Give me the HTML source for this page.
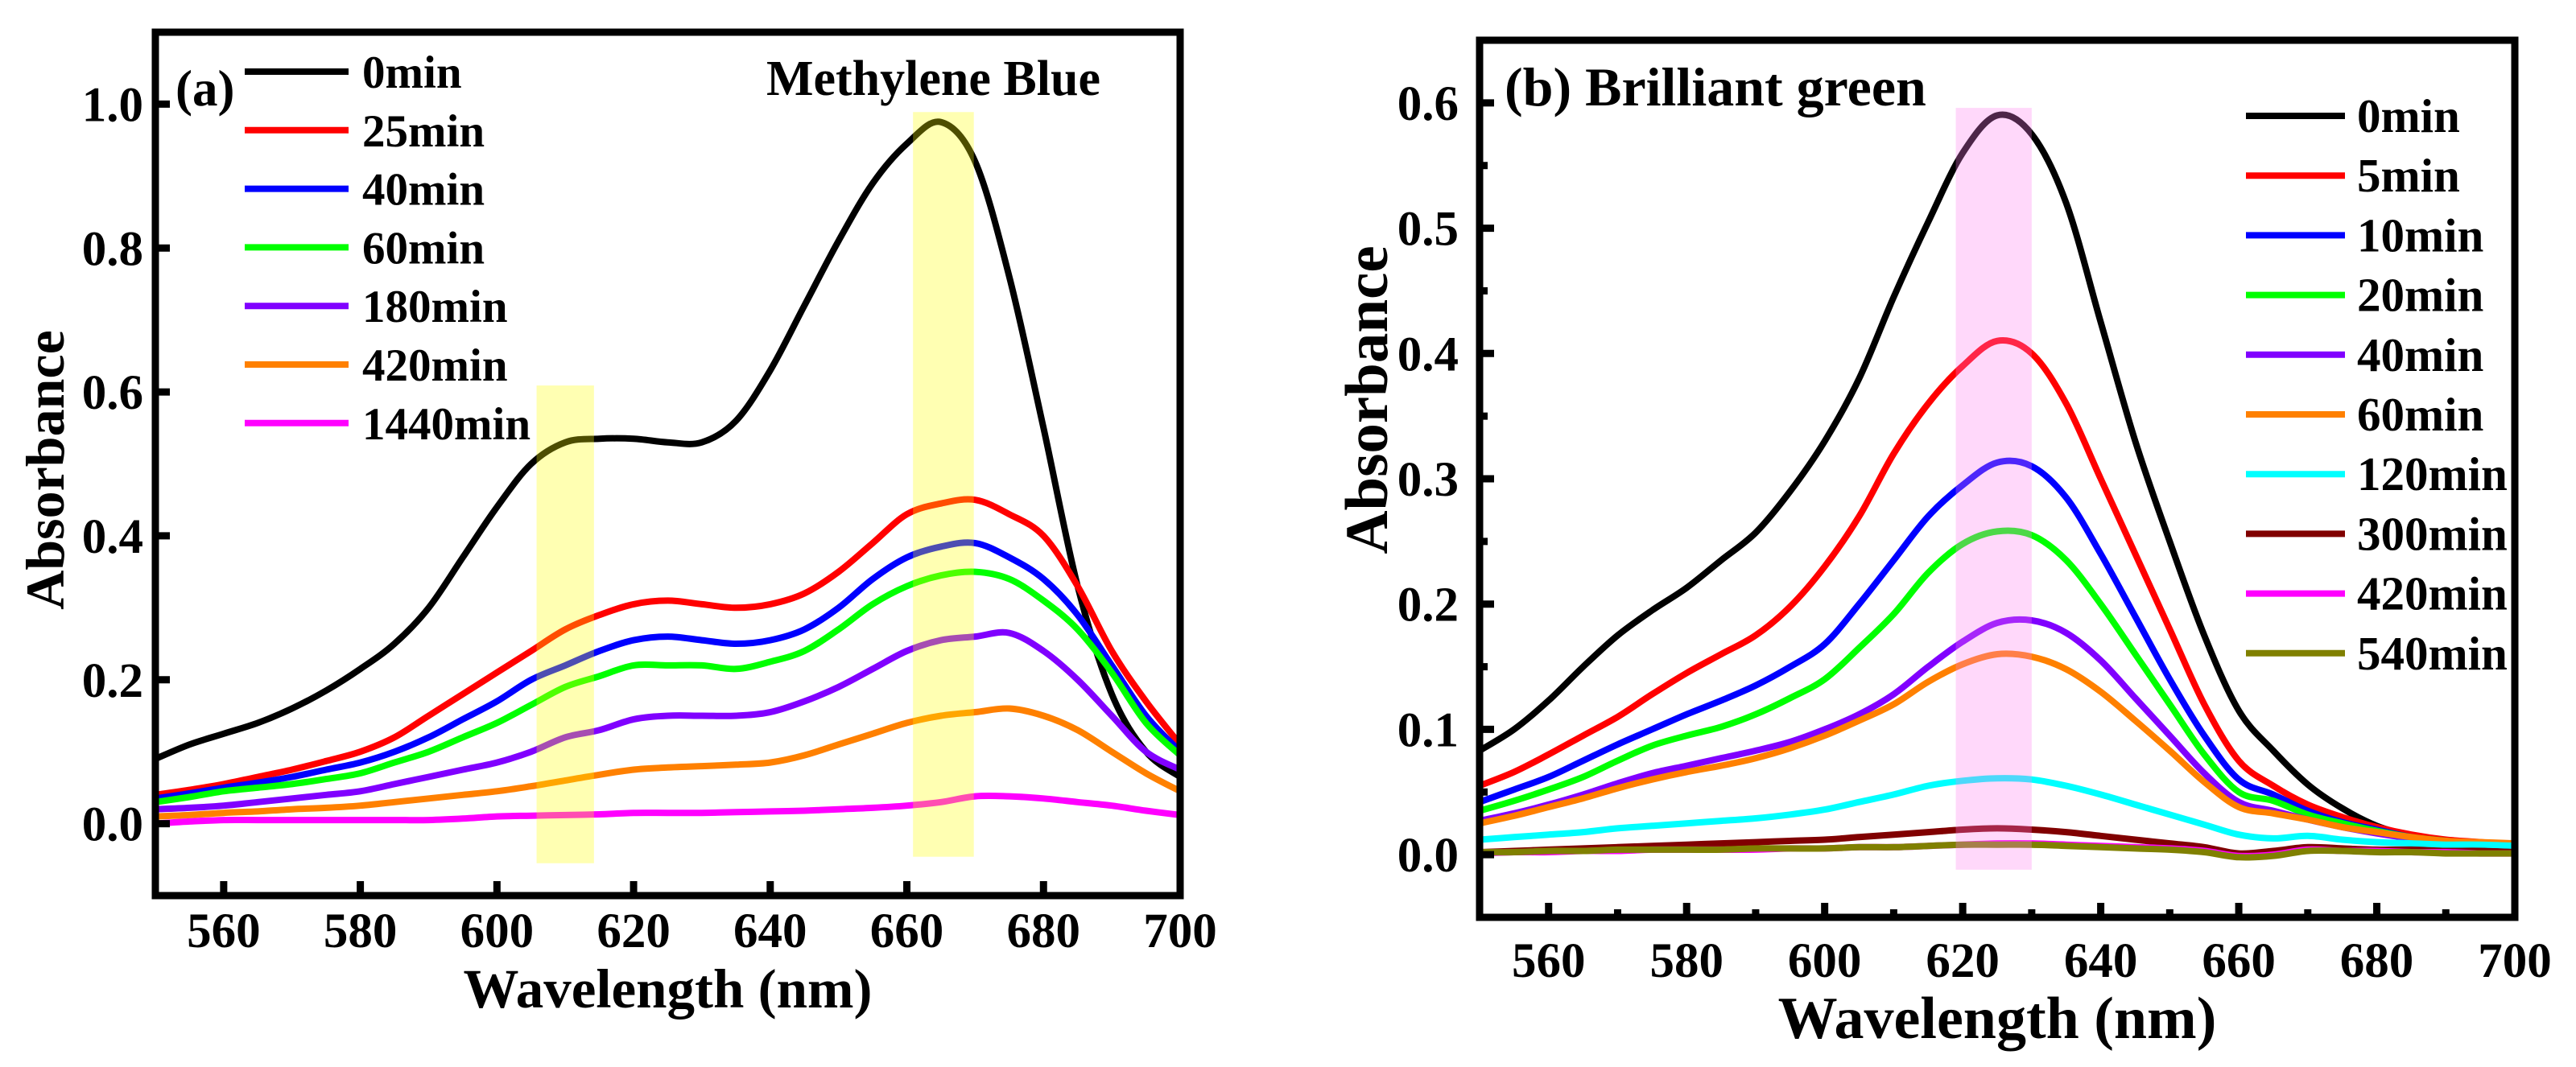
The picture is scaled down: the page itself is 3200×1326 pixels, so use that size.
<!DOCTYPE html>
<html><head><meta charset="utf-8"><style>
html,body{margin:0;padding:0;background:#fff;}
svg{display:block;font-family:"Liberation Serif",serif;font-weight:bold;}
</style></head><body>
<svg id="fig" width="3200" height="1326" viewBox="0 0 3200 1326" xmlns="http://www.w3.org/2000/svg">
<rect width="3200" height="1326" fill="#fff"/>
<g id="pa"></g>
<g id="pb"></g>
</svg>
<script>
// ---- shared wavelength axis (nm) ----
const wl = [550,555,560,565,570,575,580,585,590,595,600,605,610,615,620,625,630,635,640,645,650,655,660,665,670,675,680,685,690,695,700];

// ---- Panel (a) Methylene Blue ----
const aLabels = ["0min","25min","40min","60min","180min","420min","1440min"];
const aColors = ["#000000","#ff0000","#0000ff","#00ff00","#8000ff","#ff8000","#ff00ff"];
const a0 = [0.09,0.11,0.125,0.14,0.16,0.185,0.215,0.25,0.30,0.37,0.44,0.50,0.53,0.535,0.535,0.53,0.53,0.56,0.63,0.72,0.81,0.89,0.945,0.975,0.92,0.76,0.55,0.33,0.18,0.10,0.065];
const a25 = [0.04,0.047,0.055,0.065,0.075,0.087,0.10,0.12,0.15,0.18,0.21,0.24,0.27,0.29,0.305,0.31,0.305,0.30,0.305,0.32,0.35,0.39,0.43,0.445,0.45,0.43,0.40,0.33,0.24,0.17,0.11];
const a40 = [0.035,0.042,0.05,0.057,0.065,0.075,0.085,0.10,0.12,0.145,0.17,0.20,0.22,0.24,0.255,0.26,0.255,0.25,0.255,0.27,0.30,0.34,0.37,0.385,0.39,0.37,0.34,0.29,0.22,0.15,0.10];
const a60 = [0.03,0.037,0.045,0.05,0.055,0.062,0.07,0.085,0.10,0.12,0.14,0.165,0.19,0.205,0.22,0.22,0.22,0.215,0.225,0.24,0.27,0.305,0.33,0.345,0.35,0.34,0.31,0.27,0.21,0.14,0.095];
const a180 = [0.02,0.022,0.025,0.03,0.035,0.04,0.045,0.055,0.065,0.075,0.085,0.10,0.12,0.13,0.145,0.15,0.15,0.15,0.155,0.17,0.19,0.215,0.24,0.255,0.26,0.265,0.24,0.20,0.15,0.10,0.075];
const a420 = [0.01,0.012,0.015,0.017,0.02,0.022,0.025,0.03,0.035,0.04,0.045,0.052,0.06,0.068,0.075,0.078,0.08,0.082,0.085,0.095,0.11,0.125,0.14,0.15,0.155,0.16,0.15,0.13,0.10,0.07,0.045];
const a1440 = [0.0,0.003,0.005,0.005,0.005,0.005,0.005,0.005,0.005,0.007,0.01,0.011,0.012,0.013,0.015,0.015,0.015,0.016,0.017,0.018,0.02,0.022,0.025,0.03,0.038,0.038,0.035,0.03,0.025,0.018,0.012];
const aBandsX = [[605.8,614.2],[660.9,669.8]];
const aBandsY = [[-0.055,0.609],[-0.046,0.989]];
const aYTicks = ["0.0","0.2","0.4","0.6","0.8","1.0"];
const xTicks = ["560","580","600","620","640","660","680","700"];

// ---- Panel (b) Brilliant green ----
const bLabels = ["0min","5min","10min","20min","40min","60min","120min","300min","420min","540min"];
const bColors = ["#000000","#ff0000","#0000ff","#00ff00","#8000ff","#ff8000","#00ffff","#800000","#ff00ff","#808000"];
const b0 = [0.083,0.10,0.123,0.15,0.175,0.195,0.213,0.235,0.257,0.29,0.33,0.38,0.445,0.505,0.56,0.59,0.575,0.52,0.425,0.33,0.25,0.175,0.115,0.083,0.056,0.037,0.023,0.015,0.01,0.008,0.007];
const b5 = [0.055,0.066,0.08,0.095,0.11,0.128,0.145,0.16,0.175,0.198,0.23,0.27,0.32,0.36,0.39,0.41,0.40,0.36,0.30,0.24,0.18,0.12,0.075,0.055,0.04,0.03,0.022,0.016,0.012,0.01,0.008];
const b10 = [0.042,0.052,0.062,0.075,0.088,0.10,0.112,0.123,0.135,0.15,0.168,0.20,0.235,0.27,0.295,0.313,0.31,0.285,0.24,0.19,0.14,0.095,0.06,0.048,0.035,0.026,0.02,0.014,0.011,0.009,0.008];
const b20 = [0.035,0.043,0.052,0.062,0.075,0.087,0.095,0.102,0.112,0.125,0.14,0.165,0.192,0.225,0.248,0.258,0.255,0.235,0.2,0.16,0.12,0.08,0.05,0.043,0.032,0.025,0.019,0.014,0.011,0.009,0.008];
const b40 = [0.027,0.033,0.04,0.048,0.057,0.065,0.071,0.077,0.083,0.09,0.1,0.112,0.128,0.15,0.17,0.185,0.187,0.177,0.155,0.125,0.095,0.065,0.042,0.035,0.028,0.022,0.017,0.013,0.01,0.009,0.008];
const b60 = [0.025,0.031,0.038,0.045,0.053,0.06,0.066,0.071,0.077,0.085,0.095,0.107,0.12,0.138,0.152,0.16,0.158,0.148,0.13,0.107,0.083,0.058,0.038,0.033,0.028,0.022,0.018,0.014,0.011,0.01,0.009];
const b120 = [0.012,0.014,0.016,0.018,0.021,0.023,0.025,0.027,0.029,0.032,0.036,0.042,0.048,0.055,0.059,0.061,0.06,0.055,0.048,0.04,0.032,0.024,0.016,0.013,0.015,0.012,0.01,0.009,0.008,0.008,0.007];
const b300 = [0.002,0.003,0.004,0.005,0.006,0.007,0.008,0.009,0.01,0.011,0.012,0.014,0.016,0.018,0.02,0.021,0.02,0.018,0.015,0.012,0.009,0.006,0.001,0.003,0.006,0.005,0.004,0.004,0.003,0.003,0.002];
const b420 = [0.001,0.002,0.002,0.003,0.003,0.004,0.004,0.004,0.004,0.005,0.005,0.006,0.006,0.007,0.008,0.009,0.009,0.008,0.007,0.006,0.005,0.003,-0.001,0.0,0.004,0.003,0.003,0.002,0.002,0.001,0.001];
const b540 = [0.002,0.002,0.003,0.003,0.004,0.004,0.004,0.004,0.005,0.005,0.005,0.006,0.006,0.007,0.008,0.008,0.008,0.007,0.006,0.005,0.004,0.002,-0.002,-0.001,0.003,0.003,0.002,0.002,0.001,0.001,0.001];
const bBandX = [619,630];
const bBandY = [-0.012,0.596];
const bYTicks = ["0.0","0.1","0.2","0.3","0.4","0.5","0.6"];

const NS = "http://www.w3.org/2000/svg";
function mk(parent, tag, attrs, text){
  const e = document.createElementNS(NS, tag);
  for (const k in attrs) e.setAttribute(k, attrs[k]);
  if (text !== undefined) e.textContent = text;
  parent.appendChild(e);
  return e;
}
function smoothPath(pts){
  let d = "M" + pts[0][0].toFixed(1) + "," + pts[0][1].toFixed(1);
  for (let i = 0; i < pts.length - 1; i++){
    const p0 = pts[Math.max(0,i-1)], p1 = pts[i], p2 = pts[i+1], p3 = pts[Math.min(pts.length-1,i+2)];
    const c1x = p1[0] + (p2[0]-p0[0])/6, c1y = p1[1] + (p2[1]-p0[1])/6;
    const c2x = p2[0] - (p3[0]-p1[0])/6, c2y = p2[1] - (p3[1]-p1[1])/6;
    d += " C" + c1x.toFixed(1) + "," + c1y.toFixed(1) + " " + c2x.toFixed(1) + "," + c2y.toFixed(1) + " " + p2[0].toFixed(1) + "," + p2[1].toFixed(1);
  }
  return d;
}

function drawPanel(g, cfg){
  const X = v => cfg.x0 + (v - 550) / 150 * (cfg.x1 - cfg.x0);
  const Y = v => cfg.y1 - (v - cfg.ymin) / (cfg.ymax - cfg.ymin) * (cfg.y1 - cfg.y0);
  // series
  cfg.series.forEach((s, i) => {
    const pts = wl.map((w, j) => [X(w), Y(s[j])]);
    const p = mk(g, "path", {d: smoothPath(pts), fill: "none", stroke: cfg.colors[i], "stroke-width": 8, "stroke-linejoin": "round"});
    
    
  });
  // bands
  cfg.bands.forEach((b, i) => {
    const r = mk(g, "rect", {x: X(b[0][0]), y: Y(b[1][1]), width: X(b[0][1]) - X(b[0][0]), height: Y(b[1][0]) - Y(b[1][1]), fill: cfg.bandColor, "fill-opacity": 0.3});
    
    
  });
  // ticks
  xTicks.forEach(t => {
    const x = X(+t);
    const tk = mk(g, "line", {x1: x, x2: x, y1: cfg.y1, y2: cfg.y1 - 18, stroke: "#000", "stroke-width": 9});
    
    
    const lb = mk(g, "text", {x: x, y: cfg.xLabelY, "text-anchor": "middle", "font-size": 61}, t);
    
    
    if (cfg.minor && +t - 10 > 550){
      const xm = X(+t - 10);
      const mt = mk(g, "line", {x1: xm, x2: xm, y1: cfg.y1, y2: cfg.y1 - 10, stroke: "#000", "stroke-width": 9});
      
      
    }
  });
  cfg.yTicks.forEach(t => {
    const y = Y(+t);
    const tk = mk(g, "line", {x1: cfg.x0, x2: cfg.x0 + 18, y1: y, y2: y, stroke: "#000", "stroke-width": 9});
    
    
    const lb = mk(g, "text", {x: cfg.yLabelX, y: y + 21, "text-anchor": "end", "font-size": 61}, t);
    
    
    if (cfg.minor){
      const ym = Y(+t + cfg.minorStep);
      if (ym > cfg.y0 + 5){
        const mt = mk(g, "line", {x1: cfg.x0, x2: cfg.x0 + 10, y1: ym, y2: ym, stroke: "#000", "stroke-width": 9});
        
        
      }
    }
  });
  // frame
  const fr = mk(g, "rect", {x: cfg.x0, y: cfg.y0, width: cfg.x1 - cfg.x0, height: cfg.y1 - cfg.y0, fill: "none", stroke: "#000", "stroke-width": 9});
  
  
  // legend
  cfg.labels.forEach((l, i) => {
    const y = cfg.legY + i * cfg.legDy;
    const ln = mk(g, "line", {x1: cfg.legX1, x2: cfg.legX2, y1: y, y2: y, stroke: cfg.colors[i], "stroke-width": 8});
    
    
    const tx = mk(g, "text", {x: cfg.legTx, y: y + 20, "font-size": cfg.legFont}, l);
    
    
  });
  // axis titles
  const xt = mk(g, "text", {x: (cfg.x0 + cfg.x1) / 2, y: cfg.xTitleY, "text-anchor": "middle", "font-size": cfg.xTitleFont}, "Wavelength (nm)");
  
  
  const yt = mk(g, "text", {x: 0, y: 0, "text-anchor": "middle", "font-size": cfg.yTitleFont, transform: "translate(" + cfg.yTitleX + "," + cfg.yTitleCY + ") rotate(-90)"}, "Absorbance");
  
  
}

const pa = document.getElementById("pa");
drawPanel(pa, {
  x0: 193, x1: 1466, y0: 40, y1: 1113, ymin: -0.1, ymax: 1.1,
  series: [a0,a25,a40,a60,a180,a420,a1440], colors: aColors, labels: aLabels,
  bands: [[aBandsX[0], aBandsY[0]], [aBandsX[1], aBandsY[1]]], bandColor: "#ffff00",
  yTicks: aYTicks, minor: false, xLabelY: 1177, yLabelX: 178,
  legY: 89, legDy: 72.8, legX1: 304, legX2: 433, legTx: 450, legFont: 57,
  xTitleY: 1252, xTitleFont: 69, yTitleX: 79, yTitleCY: 584, yTitleFont: 68
});
const ta = mk(pa, "text", {x: 218, y: 131, "font-size": 63}, "(a)");


const tm = mk(pa, "text", {x: 952, y: 118, "font-size": 62}, "Methylene Blue");



const pb = document.getElementById("pb");
drawPanel(pb, {
  x0: 1838, x1: 3124, y0: 50, y1: 1140, ymin: -0.05, ymax: 0.65,
  series: [b0,b5,b10,b20,b40,b60,b120,b300,b420,b540], colors: bColors, labels: bLabels,
  bands: [[bBandX, bBandY]], bandColor: "#ff7dee",
  yTicks: bYTicks, minor: true, minorStep: 0.05, xLabelY: 1214, yLabelX: 1812,
  legY: 144, legDy: 74.2, legX1: 2790, legX2: 2913, legTx: 2928, legFont: 59,
  xTitleY: 1290, xTitleFont: 74, yTitleX: 1723, yTitleCY: 497, yTitleFont: 75
});
const tb = mk(pb, "text", {x: 1869, y: 131, "font-size": 68}, "(b) Brilliant green");


</script>
</body></html>
